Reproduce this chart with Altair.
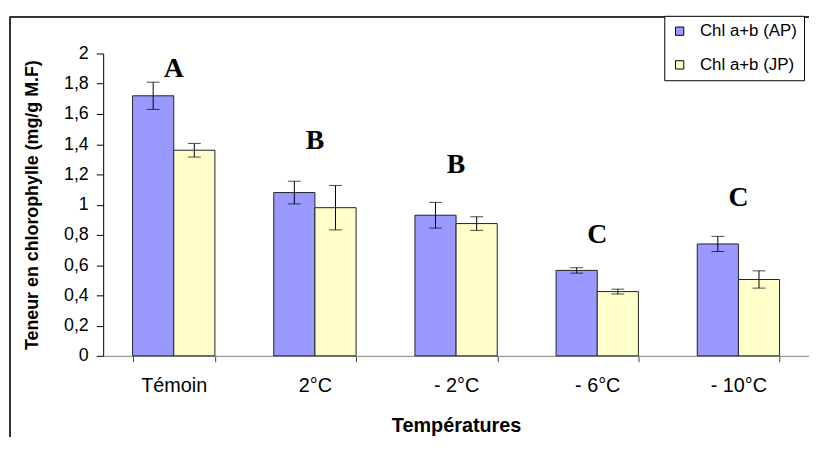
import altair as alt
import pandas as pd

categories = ["Témoin", "2°C", "- 2°C", "- 6°C", "- 10°C"]
series = ["Chl a+b (AP)", "Chl a+b (JP)"]
ap_values = [1.72, 1.08, 0.93, 0.565, 0.74]
ap_errors = [0.09, 0.075, 0.085, 0.018, 0.05]
jp_values = [1.36, 0.98, 0.875, 0.425, 0.505]
jp_errors = [0.045, 0.147, 0.045, 0.016, 0.057]
letters = ["A", "B", "B", "C", "C"]
letter_y = [1.895, 1.418, 1.259, 0.80, 1.045]
y_ticks = [0, 0.2, 0.4, 0.6, 0.8, 1.0, 1.2, 1.4, 1.6, 1.8, 2.0]

rows = []
for i, c in enumerate(categories):
    rows.append({"cat": c, "serie": series[0], "val": ap_values[i], "err": ap_errors[i]})
    rows.append({"cat": c, "serie": series[1], "val": jp_values[i], "err": jp_errors[i]})
df = pd.DataFrame(rows)
df["lo"] = df["val"] - df["err"]
df["hi"] = df["val"] + df["err"]

ldf = pd.DataFrame({"cat": categories, "letter": letters, "ly": letter_y})

W, H = 712, 305
FONT = "Liberation Sans"

xscale = alt.Scale(domain=categories, paddingInner=0.417, paddingOuter=0.2085)
yscale = alt.Scale(domain=[0, 2], nice=False)
xoff = alt.XOffset("serie:N", scale=alt.Scale(domain=series, paddingInner=0, paddingOuter=0))

x_axis = alt.Axis(title="Températures", labelAngle=0, tickBand="extent",
                  domainColor="#808080", tickColor="#404040", tickSize=6,
                  labelFontSize=20, labelFont=FONT, labelColor="black",
                  labelPadding=14, labelOverlap=False,
                  titleFont=FONT, titleFontSize=20,
                  titleFontWeight="bold", titleColor="black", titlePadding=20)
y_axis = alt.Axis(title="Teneur en chlorophylle (mg/g M.F)", values=y_ticks,
                  labelExpr="replace(format(datum.value, '.1~f'), '.', ',')",
                  labelOverlap=False,
                  grid=False, domainColor="black", tickColor="black", tickSize=7,
                  labelFontSize=18, labelFont=FONT, labelColor="black", labelPadding=8,
                  titleFont=FONT, titleFontSize=18, titleFontWeight="bold",
                  titleColor="black", titlePadding=22)

x_enc = alt.X("cat:N", scale=xscale, sort=categories, axis=x_axis)


def y_of(field):
    return alt.Y(field + ":Q", scale=yscale, axis=y_axis)


bars = alt.Chart(df).mark_bar(stroke="#222222", strokeWidth=1).encode(
    x=x_enc,
    xOffset=xoff,
    y=y_of("val"),
    color=alt.Color("serie:N", scale=alt.Scale(domain=series, range=["#9999FF", "#FFFFCC"]),
                    legend=alt.Legend(title=None, orient="none", legendX=566, legendY=-38,
                                      symbolType="square", symbolSize=70,
                                      symbolStrokeColor="black", symbolStrokeWidth=1,
                                      labelFont=FONT, labelFontSize=17, labelColor="black",
                                      rowPadding=16, padding=7, fillColor="white",
                                      strokeColor="black", labelOffset=12)),
)

err_rule = alt.Chart(df).mark_rule(color="black", strokeWidth=1).encode(
    x=x_enc, xOffset=xoff, y=y_of("lo"), y2="hi:Q")
cap_lo = alt.Chart(df).mark_tick(color="black", thickness=1, size=13).encode(
    x=x_enc, xOffset=xoff, y=y_of("lo"))
cap_hi = alt.Chart(df).mark_tick(color="black", thickness=1, size=13).encode(
    x=x_enc, xOffset=xoff, y=y_of("hi"))

text = alt.Chart(ldf).mark_text(font="Liberation Serif", fontWeight="bold", fontSize=28,
                                baseline="middle", color="black").encode(
    x=x_enc, y=y_of("ly"), text="letter:N")

frame_v = alt.Chart(ldf).mark_rule(color="#333333", strokeWidth=1.5).encode(
    x=alt.value(-94), y=alt.value(-37), y2=alt.value(H + 120))
frame_h = alt.Chart(ldf).mark_rule(color="#333333", strokeWidth=1.5).encode(
    x=alt.value(-94), x2=alt.value(W + 20), y=alt.value(-37))

chart = alt.layer(bars, err_rule, cap_lo, cap_hi, text, frame_v, frame_h).properties(
    width=W, height=H,
    background="white",
    autosize=alt.AutoSizeParams(type="none"),
    padding={"left": 96, "top": 44, "right": 0, "bottom": 80},
).configure_view(stroke=None)

chart.save("out.html", embed_options={"renderer": "svg", "actions": False})
